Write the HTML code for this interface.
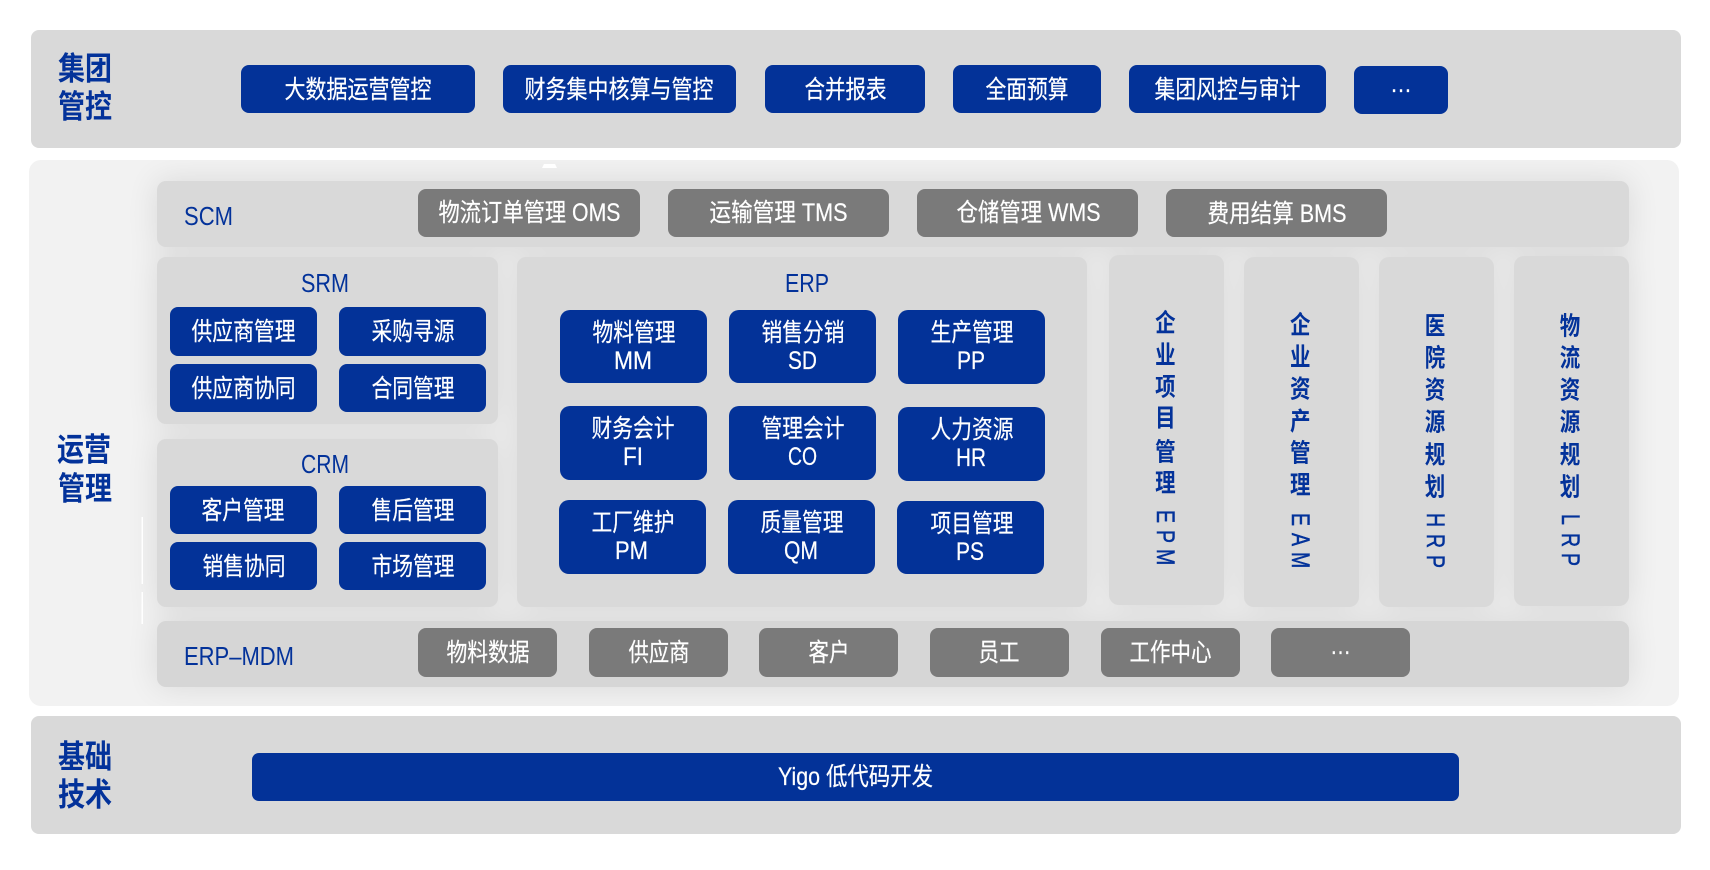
<!DOCTYPE html>
<html lang="zh"><head><meta charset="utf-8"><title>架构图</title>
<style>
html,body{margin:0;padding:0;background:#fff;width:1710px;height:870px;overflow:hidden}
svg{display:block}
text{font-family:"Liberation Sans","Noto Sans CJK SC",sans-serif}
.w{fill:#fff;font-size:25px;stroke:#fff;stroke-width:.2px}
.b{fill:#03329a;font-size:26px}
.l{fill:#03329a;font-size:32px;font-weight:700}
.v{fill:#03329a;font-size:25px;font-weight:700;text-anchor:middle}
.r{fill:#03329a;font-size:25px;stroke:#03329a;stroke-width:.5px}
.blue rect{fill:#033298}
.gray rect{fill:#7a7a7a}
.pan rect{fill:#d9d9d9}
</style></head><body>
<svg width="1710" height="870" viewBox="0 0 1710 870" xmlns="http://www.w3.org/2000/svg">
<defs>
<filter id="blur" x="-20%" y="-20%" width="140%" height="140%"><feGaussianBlur stdDeviation="16"/></filter>
<clipPath id="pc"><rect x="29" y="160" width="1650" height="546" rx="12"/></clipPath>
</defs>
<rect x="31" y="30" width="1650" height="118" rx="8" fill="#d9d9d9"/>
<rect x="29" y="160" width="1650" height="546" rx="12" fill="#f2f2f2"/>
<rect x="31" y="716" width="1650" height="118" rx="8" fill="#d9d9d9"/>
<g clip-path="url(#pc)"><g filter="url(#blur)" fill="#000" opacity=".1">
<rect x="157" y="181" width="1472" height="66"/>
<rect x="157" y="257" width="341" height="167"/>
<rect x="157" y="439" width="341" height="168"/>
<rect x="517" y="257" width="570" height="350"/>
<rect x="1109" y="255" width="115" height="350"/>
<rect x="1244" y="257" width="115" height="350"/>
<rect x="1379" y="257" width="115" height="350"/>
<rect x="1514" y="256" width="115" height="350"/>
<rect x="157" y="621" width="1472" height="66"/>
</g></g>
<path d="M544 164h11l2 4h-15z" fill="#fff"/>
<rect x="141.5" y="517" width="1.5" height="67" fill="#fff"/>
<rect x="141.5" y="592" width="1.5" height="32" fill="#fff"/>
<g class="pan">
<rect x="157" y="181" width="1472" height="66" rx="9"/>
<rect x="157" y="257" width="341" height="167" rx="9"/>
<rect x="157" y="439" width="341" height="168" rx="9"/>
<rect x="517" y="257" width="570" height="350" rx="9"/>
<rect x="1109" y="255" width="115" height="350" rx="10"/>
<rect x="1244" y="257" width="115" height="350" rx="10"/>
<rect x="1379" y="257" width="115" height="350" rx="10"/>
<rect x="1514" y="256" width="115" height="350" rx="10"/>
<rect x="157" y="621" width="1472" height="66" rx="9" style="fill:#d6d6d6"/>
</g>
<g class="blue">
<rect x="241" y="65" width="234" height="48" rx="8"/>
<rect x="503" y="65" width="233" height="48" rx="8"/>
<rect x="765" y="65" width="160" height="48" rx="8"/>
<rect x="953" y="65" width="148" height="48" rx="8"/>
<rect x="1129" y="65" width="197" height="48" rx="8"/>
<rect x="1354" y="66" width="94" height="48" rx="8"/>
<rect x="170" y="307" width="147" height="49" rx="8"/>
<rect x="339" y="307" width="147" height="49" rx="8"/>
<rect x="170" y="364" width="147" height="48" rx="8"/>
<rect x="339" y="364" width="147" height="48" rx="8"/>
<rect x="170" y="486" width="147" height="48" rx="8"/>
<rect x="339" y="486" width="147" height="48" rx="8"/>
<rect x="170" y="542" width="147" height="48" rx="8"/>
<rect x="339" y="542" width="147" height="48" rx="8"/>
<rect x="560" y="310" width="147" height="73" rx="10"/>
<rect x="729" y="310" width="147" height="73" rx="10"/>
<rect x="898" y="310" width="147" height="74" rx="10"/>
<rect x="560" y="406" width="147" height="74" rx="10"/>
<rect x="729" y="406" width="147" height="74" rx="10"/>
<rect x="898" y="407" width="147" height="74" rx="10"/>
<rect x="559" y="500" width="147" height="74" rx="10"/>
<rect x="728" y="500" width="147" height="74" rx="10"/>
<rect x="897" y="501" width="147" height="73" rx="10"/>
<rect x="252" y="753" width="1207" height="48" rx="7"/>
</g>
<g class="gray">
<rect x="418" y="189" width="222" height="48" rx="8"/>
<rect x="668" y="189" width="221" height="48" rx="8"/>
<rect x="917" y="189" width="221" height="48" rx="8"/>
<rect x="1166" y="189" width="221" height="48" rx="8"/>
<rect x="418" y="628" width="139" height="49" rx="8"/>
<rect x="589" y="628" width="139" height="49" rx="8"/>
<rect x="759" y="628" width="139" height="49" rx="8"/>
<rect x="930" y="628" width="139" height="49" rx="8"/>
<rect x="1101" y="628" width="139" height="49" rx="8"/>
<rect x="1271" y="628" width="139" height="49" rx="8"/>
</g>

<text class="l" x="58" y="79.5" textLength="54" lengthAdjust="spacingAndGlyphs">集团</text>
<text class="l" x="58" y="117.5" textLength="54" lengthAdjust="spacingAndGlyphs">管控</text>
<text class="l" x="57" y="460.5" textLength="54" lengthAdjust="spacingAndGlyphs">运营</text>
<text class="l" x="58" y="499.5" textLength="54" lengthAdjust="spacingAndGlyphs">管理</text>
<text class="l" x="58" y="767.5" textLength="54" lengthAdjust="spacingAndGlyphs">基础</text>
<text class="l" x="58" y="805.5" textLength="54" lengthAdjust="spacingAndGlyphs">技术</text>

<text class="w" x="284.5" y="98" textLength="147" lengthAdjust="spacingAndGlyphs">大数据运营管控</text>
<text class="w" x="524.5" y="98" textLength="189" lengthAdjust="spacingAndGlyphs">财务集中核算与管控</text>
<text class="w" x="804.5" y="98" textLength="82" lengthAdjust="spacingAndGlyphs">合并报表</text>
<text class="w" x="985.5" y="98" textLength="83" lengthAdjust="spacingAndGlyphs">全面预算</text>
<text class="w" x="1154.5" y="98" textLength="146" lengthAdjust="spacingAndGlyphs">集团风控与审计</text>
<text class="w" x="1390" y="92" textLength="22" lengthAdjust="spacingAndGlyphs">…</text>

<text class="w" x="438.5" y="221" textLength="182" lengthAdjust="spacingAndGlyphs">物流订单管理 OMS</text>
<text class="w" x="709.5" y="221" textLength="138" lengthAdjust="spacingAndGlyphs">运输管理 TMS</text>
<text class="w" x="956.5" y="221" textLength="144" lengthAdjust="spacingAndGlyphs">仓储管理 WMS</text>
<text class="w" x="1207.5" y="222" textLength="139" lengthAdjust="spacingAndGlyphs">费用结算 BMS</text>

<text class="w" x="191.5" y="340" textLength="104" lengthAdjust="spacingAndGlyphs">供应商管理</text>
<text class="w" x="371.5" y="340" textLength="83" lengthAdjust="spacingAndGlyphs">采购寻源</text>
<text class="w" x="191.5" y="397" textLength="104" lengthAdjust="spacingAndGlyphs">供应商协同</text>
<text class="w" x="371.5" y="397" textLength="83" lengthAdjust="spacingAndGlyphs">合同管理</text>

<text class="w" x="201.5" y="519" textLength="83" lengthAdjust="spacingAndGlyphs">客户管理</text>
<text class="w" x="371.5" y="519" textLength="83" lengthAdjust="spacingAndGlyphs">售后管理</text>
<text class="w" x="202.5" y="575" textLength="83" lengthAdjust="spacingAndGlyphs">销售协同</text>
<text class="w" x="371.5" y="575" textLength="83" lengthAdjust="spacingAndGlyphs">市场管理</text>

<text class="w" x="592.5" y="341" textLength="83" lengthAdjust="spacingAndGlyphs">物料管理</text>
<text class="w" x="761.5" y="341" textLength="83" lengthAdjust="spacingAndGlyphs">销售分销</text>
<text class="w" x="930.5" y="341" textLength="83" lengthAdjust="spacingAndGlyphs">生产管理</text>
<text class="w" x="614" y="369" textLength="38" lengthAdjust="spacingAndGlyphs">MM</text>
<text class="w" x="788" y="369" textLength="29" lengthAdjust="spacingAndGlyphs">SD</text>
<text class="w" x="957" y="369" textLength="28" lengthAdjust="spacingAndGlyphs">PP</text>

<text class="w" x="591.5" y="437" textLength="83" lengthAdjust="spacingAndGlyphs">财务会计</text>
<text class="w" x="761.5" y="437" textLength="83" lengthAdjust="spacingAndGlyphs">管理会计</text>
<text class="w" x="930.5" y="438" textLength="83" lengthAdjust="spacingAndGlyphs">人力资源</text>
<text class="w" x="623" y="465" textLength="20" lengthAdjust="spacingAndGlyphs">FI</text>
<text class="w" x="788" y="465" textLength="29" lengthAdjust="spacingAndGlyphs">CO</text>
<text class="w" x="956" y="466" textLength="30" lengthAdjust="spacingAndGlyphs">HR</text>

<text class="w" x="591.5" y="531" textLength="83" lengthAdjust="spacingAndGlyphs">工厂维护</text>
<text class="w" x="760.5" y="531" textLength="83" lengthAdjust="spacingAndGlyphs">质量管理</text>
<text class="w" x="930.5" y="532" textLength="83" lengthAdjust="spacingAndGlyphs">项目管理</text>
<text class="w" x="615" y="559" textLength="33" lengthAdjust="spacingAndGlyphs">PM</text>
<text class="w" x="784" y="559" textLength="34" lengthAdjust="spacingAndGlyphs">QM</text>
<text class="w" x="956" y="560" textLength="28" lengthAdjust="spacingAndGlyphs">PS</text>

<text class="w" x="446.5" y="661" textLength="83" lengthAdjust="spacingAndGlyphs">物料数据</text>
<text class="w" x="628.5" y="661" textLength="61" lengthAdjust="spacingAndGlyphs">供应商</text>
<text class="w" x="808.5" y="661" textLength="41" lengthAdjust="spacingAndGlyphs">客户</text>
<text class="w" x="978.5" y="661" textLength="41" lengthAdjust="spacingAndGlyphs">员工</text>
<text class="w" x="1129.5" y="661" textLength="82" lengthAdjust="spacingAndGlyphs">工作中心</text>
<text class="w" x="1330" y="654" textLength="21" lengthAdjust="spacingAndGlyphs">…</text>

<text class="w" x="778" y="785" textLength="155" lengthAdjust="spacingAndGlyphs">Yigo 低代码开发</text>

<text class="b" x="184" y="225" textLength="49" lengthAdjust="spacingAndGlyphs">SCM</text>
<text class="b" x="301" y="292" textLength="48" lengthAdjust="spacingAndGlyphs">SRM</text>
<text class="b" x="785" y="292" textLength="44" lengthAdjust="spacingAndGlyphs">ERP</text>
<text class="b" x="301" y="473" textLength="48" lengthAdjust="spacingAndGlyphs">CRM</text>
<text class="b" x="184" y="665" textLength="110" lengthAdjust="spacingAndGlyphs">ERP–MDM</text>

<text class="v" transform="translate(1165.4 331.5) scale(.82 1)">企</text>
<text class="v" transform="translate(1165.4 363.5) scale(.82 1)">业</text>
<text class="v" transform="translate(1165.4 395.5) scale(.82 1)">项</text>
<text class="v" transform="translate(1165.4 426.5) scale(.82 1)">目</text>
<text class="v" transform="translate(1165.4 460.5) scale(.82 1)">管</text>
<text class="v" transform="translate(1165.4 491.5) scale(.82 1)">理</text>
<text class="r" transform="translate(1157 510) rotate(90) scale(.78 1)">E</text>
<text class="r" transform="translate(1157 530) rotate(90) scale(.78 1)">P</text>
<text class="r" transform="translate(1157 549) rotate(90) scale(.78 1)">M</text>

<text class="v" transform="translate(1300.3 333.5) scale(.82 1)">企</text>
<text class="v" transform="translate(1300.3 365.5) scale(.82 1)">业</text>
<text class="v" transform="translate(1300.3 397.5) scale(.82 1)">资</text>
<text class="v" transform="translate(1300.3 430) scale(.82 1)">产</text>
<text class="v" transform="translate(1300.3 461.5) scale(.82 1)">管</text>
<text class="v" transform="translate(1300.3 493.5) scale(.82 1)">理</text>
<text class="r" transform="translate(1292 513) rotate(90) scale(.78 1)">E</text>
<text class="r" transform="translate(1292 533) rotate(90) scale(.78 1)">A</text>
<text class="r" transform="translate(1292 552) rotate(90) scale(.78 1)">M</text>

<text class="v" transform="translate(1435 334.5) scale(.82 1)">医</text>
<text class="v" transform="translate(1435 366.5) scale(.82 1)">院</text>
<text class="v" transform="translate(1435 398.5) scale(.82 1)">资</text>
<text class="v" transform="translate(1435 430.5) scale(.82 1)">源</text>
<text class="v" transform="translate(1435 463.5) scale(.82 1)">规</text>
<text class="v" transform="translate(1435 495.5) scale(.82 1)">划</text>
<text class="r" transform="translate(1427 513) rotate(90) scale(.78 1)">H</text>
<text class="r" transform="translate(1427 534) rotate(90) scale(.78 1)">R</text>
<text class="r" transform="translate(1427 555) rotate(90) scale(.78 1)">P</text>

<text class="v" transform="translate(1570 334.5) scale(.82 1)">物</text>
<text class="v" transform="translate(1570 366.5) scale(.82 1)">流</text>
<text class="v" transform="translate(1570 398.5) scale(.82 1)">资</text>
<text class="v" transform="translate(1570 430.5) scale(.82 1)">源</text>
<text class="v" transform="translate(1570 463.5) scale(.82 1)">规</text>
<text class="v" transform="translate(1570 495.5) scale(.82 1)">划</text>
<text class="r" transform="translate(1562 514) rotate(90) scale(.78 1)">L</text>
<text class="r" transform="translate(1562 533) rotate(90) scale(.78 1)">R</text>
<text class="r" transform="translate(1562 553) rotate(90) scale(.78 1)">P</text>
</svg>
</body></html>
